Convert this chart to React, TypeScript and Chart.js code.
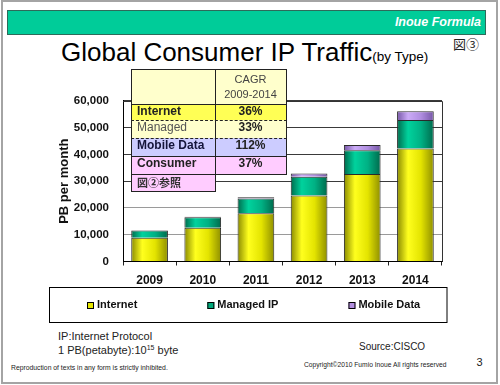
import React, { useEffect, useRef } from "react";
import { Chart, registerables } from "chart.js";

Chart.register(...registerables);

// ---------- data ----------
const years = ["2009", "2010", "2011", "2012", "2013", "2014"];
const internet = [8900, 12600, 18000, 24700, 32700, 42200];
const managedIP = [2700, 3900, 5500, 7000, 8900, 10700];
const mobileData = [100, 200, 500, 1200, 1900, 3200];
const seriesNames = ["Internet", "Managed IP", "Mobile Data"];
const yTickValues = [0, 10000, 20000, 30000, 40000, 50000, 60000];
const yTickLabels = ["0", "10,000", "20,000", "30,000", "40,000", "50,000", "60,000"];
const cagrLabels = ["Internet", "Managed", "Mobile Data", "Consumer"];
const cagrValues = ["36%", "33%", "112%", "37%"];

const SANS = "'Liberation Sans', Arial, sans-serif";
const CJK = "'Noto Sans CJK JP', 'Noto Sans CJK SC', sans-serif";
const BAR_PCT = 0.69;

type Stops = [string, string, string, string];
const yellowStops: Stops = ["#8a8a00", "#ffff1e", "#e4e400", "#8f8f00"];
const greenStops: Stops = ["#006a4c", "#00d29d", "#00b184", "#006a4c"];
const purpleStops: Stops = ["#7656a6", "#cbabf7", "#b08ee0", "#7656a6"];
const swatchColors = ["#e6e600", "#00a87a", "#b38fe0"];

function cylinder(stops: Stops) {
  return (c: any) => {
    if (c.type !== "data") return stops[2];
    const xs = c.chart.scales.x;
    if (!xs || !isFinite(xs.width) || xs.width <= 0) return stops[2];
    const cx = xs.getPixelForValue(c.dataIndex);
    const half = ((xs.width / years.length) * BAR_PCT) / 2;
    const g = c.chart.ctx.createLinearGradient(cx - half, 0, cx + half, 0);
    g.addColorStop(0, stops[0]);
    g.addColorStop(0.3, stops[1]);
    g.addColorStop(0.65, stops[2]);
    g.addColorStop(1, stops[3]);
    return g;
  };
}

const framePlugin = {
  id: "frame",
  beforeDatasetsDraw(chart: any) {
    const { ctx, chartArea } = chart;
    ctx.save();
    ctx.strokeStyle = "#333";
    ctx.lineWidth = 1;
    ctx.beginPath();
    ctx.moveTo(chartArea.left, Math.round(chartArea.top) + 0.5);
    ctx.lineTo(Math.round(chartArea.right) + 0.5, Math.round(chartArea.top) + 0.5);
    ctx.lineTo(Math.round(chartArea.right) + 0.5, chartArea.bottom);
    ctx.stroke();
    ctx.restore();
  },
};

const boxLegendPlugin = {
  id: "boxLegend",
  afterDraw(chart: any) {
    const { ctx } = chart;
    const xs = chart.scales.x;
    const top = Math.round(xs.bottom) + 0.5;
    const h = 35;
    ctx.save();
    ctx.strokeStyle = "#000";
    ctx.lineWidth = 1;
    ctx.strokeRect(0.5, top, chart.width - 1.5, h);
    ctx.font = "bold 11px " + SANS;
    const sw = 7;
    const gapIn = 3;
    const gap = 70;
    const items = chart.data.datasets.map((d: any, i: number) => ({
      label: d.label as string,
      color: swatchColors[i],
    }));
    const widths = items.map((it: any) => sw + gapIn + ctx.measureText(it.label).width);
    let x = Math.round(chart.width * 0.095);
    const cy = top + h / 2;
    items.forEach((it: any, i: number) => {
      ctx.fillStyle = it.color;
      ctx.fillRect(x, Math.round(cy - sw / 2), sw, sw);
      ctx.strokeStyle = "#000";
      ctx.strokeRect(x + 0.5, Math.round(cy - sw / 2) + 0.5, sw - 1, sw - 1);
      ctx.fillStyle = "#111";
      ctx.textBaseline = "middle";
      ctx.textAlign = "left";
      ctx.fillText(it.label, x + sw + gapIn, cy);
      x += widths[i] + gap;
    });
    ctx.restore();
  },
};

const abs = (left: number, top: number, extra: React.CSSProperties = {}): React.CSSProperties => ({
  position: "absolute",
  left,
  top,
  whiteSpace: "nowrap",
  ...extra,
});

const rowBounds = [69, 104, 120, 138, 156, 174, 191];
const rowColors = ["#FFFFCC", "#FFFF55", "#FFFFCC", "#CCCCFF", "#FFCCFF", "#FFCCFF"];
const rowLineStyles = ["solid", "solid", "dashed", "dashed", "solid", "solid", "solid"];
const colL = 131;
const colM = 215;
const colR = 286;

function CagrTable() {
  const els: React.ReactNode[] = [];
  for (let i = 0; i < 6; i++) {
    const t = rowBounds[i];
    const h = rowBounds[i + 1] - t;
    const full = i < 5;
    els.push(
      <div key={"bg" + i} style={abs(colL, t, { width: (full ? colR : colM) - colL, height: h, background: rowColors[i] })} />
    );
  }
  for (let i = 0; i < rowBounds.length; i++) {
    const right = i <= 5 ? colR : colM;
    const w = (i === 6 ? colM : right) - colL + 1;
    els.push(
      <div
        key={"h" + i}
        style={abs(colL, rowBounds[i], { width: w, height: 0, borderTop: "1px " + rowLineStyles[i] + " #222" })}
      />
    );
  }
  els.push(<div key="v1" style={abs(colL, 69, { width: 0, height: 191 - 69, borderLeft: "1px solid #222" })} />);
  els.push(<div key="v2" style={abs(colM, 69, { width: 0, height: 191 - 69, borderLeft: "1px solid #222" })} />);
  els.push(<div key="v3" style={abs(colR, 69, { width: 0, height: 174 - 69, borderLeft: "1px solid #222" })} />);
  els.push(
    <div
      key="hdr"
      style={abs(colM, 72, {
        width: colR - colM,
        textAlign: "center",
        font: "11px " + SANS,
        lineHeight: "15px",
        color: "#444",
      })}
    >
      CAGR
      <br />
      2009-2014
    </div>
  );
  cagrLabels.forEach((lab, i) => {
    const t = rowBounds[i + 1];
    const h = rowBounds[i + 2] - t;
    const managed = lab === "Managed";
    els.push(
      <div
        key={"l" + i}
        style={abs(colL + 6, t, {
          height: h,
          lineHeight: h + "px",
          font: (managed ? "normal " : "bold ") + "12px " + SANS,
          color: managed ? "#555" : lab === "Mobile Data" ? "#14143a" : "#222",
        })}
      >
        {lab}
      </div>
    );
    els.push(
      <div
        key={"v" + i}
        style={abs(colM, t, {
          width: colR - colM,
          height: h,
          lineHeight: h + "px",
          textAlign: "center",
          font: "bold 12px " + SANS,
          color: "#222",
        })}
      >
        {cagrValues[i]}
      </div>
    );
  });
  els.push(
    <div
      key="ref"
      style={abs(colL + 6, 174, { height: 17, lineHeight: "17px", font: "bold 11px " + CJK, color: "#333" })}
    >
      図②参照
    </div>
  );
  return <>{els}</>;
}

export default function App() {
  const ref = useRef<HTMLCanvasElement>(null);

  useEffect(() => {
    const canvas = ref.current;
    if (!canvas) return;
    const chart = new Chart(canvas, {
      type: "bar",
      data: {
        labels: years,
        datasets: [
          { label: seriesNames[0], data: internet, backgroundColor: cylinder(yellowStops) as any },
          { label: seriesNames[1], data: managedIP, backgroundColor: cylinder(greenStops) as any },
          { label: seriesNames[2], data: mobileData, backgroundColor: cylinder(purpleStops) as any },
        ],
      },
      options: {
        animation: false,
        responsive: false,
        devicePixelRatio: 1,
        layout: { padding: { left: 0, right: 6, top: 13, bottom: 37 } },
        datasets: {
          bar: {
            barPercentage: BAR_PCT,
            categoryPercentage: 1,
            borderColor: "#2a2a2a",
            borderWidth: 1,
          },
        },
        plugins: {
          legend: { display: false },
          tooltip: { enabled: false },
          title: { display: false },
        },
        scales: {
          x: {
            stacked: true,
            grid: {
              display: true,
              drawOnChartArea: false,
              drawTicks: true,
              tickLength: 4,
              color: "#222",
              offset: true,
            },
            border: { display: true, color: "#000", width: 1 },
            ticks: {
              padding: 8,
              color: "#111",
              font: { family: SANS, size: 12, weight: "bold" },
            },
            afterFit: (s: any) => {
              s.height = 25.5;
            },
          },
          y: {
            stacked: true,
            min: 0,
            max: 60000,
            afterBuildTicks: (s: any) => {
              s.ticks = yTickValues.map((v) => ({ value: v }));
            },
            ticks: {
              padding: 14,
              color: "#111",
              font: { family: SANS, size: 11.5, weight: "bold" },
              callback: (_v: any, i: number) => yTickLabels[i],
            },
            grid: {
              drawTicks: false,
              color: (c: any) => (c.tick && c.tick.value >= 30000 ? "#3a3a3a" : "#9a9a9a"),
              lineWidth: 1,
            },
            border: { display: true, color: "#000", width: 1 },
            title: {
              display: true,
              text: "PB per month",
              color: "#111",
              font: { family: SANS, size: 13, weight: "bold" },
              padding: { top: 8, bottom: 0 },
            },
            afterFit: (s: any) => {
              s.width = 74;
            },
          },
        },
      },
      plugins: [framePlugin, boxLegendPlugin],
    });
    return () => chart.destroy();
  }, []);

  return (
    <div
      style={{
        position: "absolute",
        left: 0,
        top: 0,
        width: 500,
        height: 385,
        background: "#fff",
        overflow: "hidden",
        fontFamily: SANS,
      }}
    >
      <div
        style={abs(1, 0, {
          width: 497,
          height: 384,
          border: "2px solid #a4a4a4",
          boxSizing: "border-box",
        })}
      />
      <div
        style={abs(7, 10, {
          width: 479,
          height: 25,
          background: "#00CC99",
          border: "1px solid #2d6b5a",
          boxSizing: "border-box",
        })}
      />
      <div
        style={abs(0, 14, {
          width: 481,
          textAlign: "right",
          font: "italic bold 12.5px " + SANS,
          lineHeight: "17px",
          color: "#fff",
        })}
      >
        Inoue Formula
      </div>
      <div style={abs(61, 37, { lineHeight: "30px", color: "#000" })}>
        <span style={{ fontSize: 26, fontFamily: SANS }}>Global Consumer IP Traffic</span>
        <span style={{ fontSize: 13.5, fontFamily: SANS }}>(by Type)</span>
      </div>
      <div style={abs(453, 35, { font: "13px " + CJK, lineHeight: "17px", color: "#222" })}>図③</div>

      <div style={abs(49, 80, { width: 399, height: 244 })}>
        <canvas ref={ref} width={399} height={244} style={{ display: "block", width: 399, height: 244 }} />
      </div>

      <CagrTable />

      <div style={abs(58, 328.5, { font: "11px " + SANS, lineHeight: "14px", color: "#222" })}>
        IP:Internet Protocol
      </div>
      <div style={abs(58, 342.5, { font: "11px " + SANS, lineHeight: "14px", color: "#222" })}>
        1 PB(petabyte):10<sup style={{ fontSize: 7, verticalAlign: "4px", lineHeight: 0 }}>15</sup> byte
      </div>
      <div style={abs(359, 339.5, { font: "10px " + SANS, lineHeight: "13px", color: "#222" })}>Source:CISCO</div>
      <div style={abs(304, 360, { font: "6.7px " + SANS, lineHeight: "9px", color: "#222" })}>
        Copyright©2010 Fumio Inoue All rights reserved
      </div>
      <div style={abs(476.5, 354.5, { font: "11px " + SANS, lineHeight: "14px", color: "#222" })}>3</div>
      <div style={abs(11, 362.5, { font: "6.8px " + SANS, lineHeight: "9px", color: "#222" })}>
        Reproduction of texts in any form is strictly inhibited.
      </div>
    </div>
  );
}
